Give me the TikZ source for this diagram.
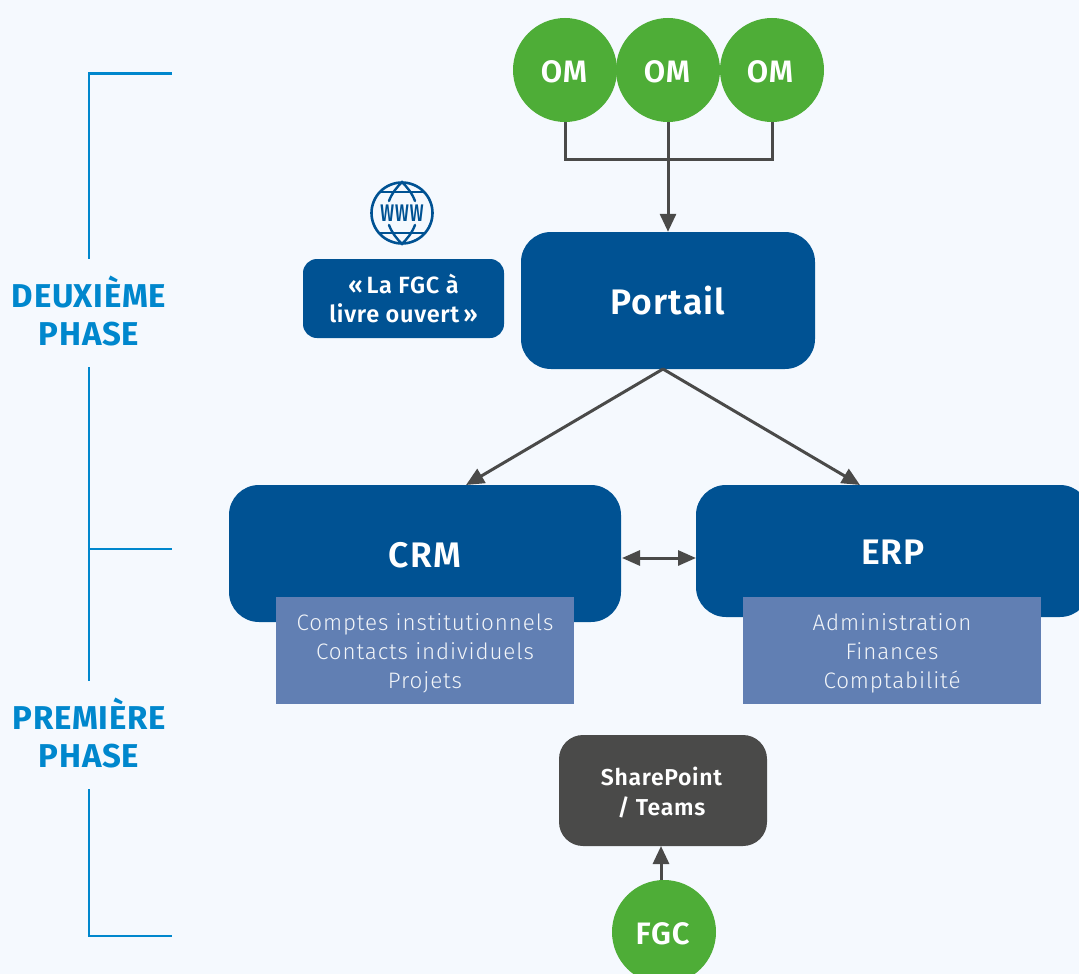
\documentclass[tikz,border=0pt]{standalone}
\usepackage{fontspec}
\setmainfont{Fira Sans}
\newfontfamily\dinb[LetterSpace=3]{Fira Sans SemiBold}
\newfontfamily\dinp[LetterSpace=2]{Fira Sans Bold}
\newfontfamily\dinr[LetterSpace=4]{Fira Sans Light}
\newfontfamily\dinw[LetterSpace=6]{Fira Sans SemiBold}
\usetikzlibrary{arrows.meta,calc}
\definecolor{bgc}{HTML}{F5F9FE}
\definecolor{navy}{HTML}{005293}
\definecolor{subb}{HTML}{617FB3}
\definecolor{grn}{HTML}{4EAD37}
\definecolor{dgray}{HTML}{4A4A49}
\definecolor{cyanb}{HTML}{0087CD}
\newcommand{\dn}[2]{\raisebox{-#1}[\dimexpr\height+#1\relax][0pt]{#2}}
\tikzset{
  x=1pt,y=-1pt,
  omc/.style={circle,fill=grn,draw=none,minimum size=104pt,inner sep=0pt,text=white,font=\dinb\fontsize{31}{31}\selectfont},
  bigbox/.style={rectangle,rounded corners=30pt,fill=navy,draw=none,inner sep=0pt,text=white,font=\dinb\fontsize{35.5}{35.5}\selectfont},
  subbox/.style={rectangle,fill=subb,draw=none,inner sep=0pt,minimum width=298pt,minimum height=107pt},
  subtext/.style={text=white!92!subb,align=center,inner sep=0pt,font=\dinr\fontsize{22.4}{29}\selectfont},
  conn/.style={draw=dgray,line width=3pt},
  arr/.style={conn,-{Triangle[length=18pt,width=16pt]}},
  darr/.style={conn,{Triangle[length=18pt,width=15pt]}-{Triangle[length=18pt,width=15pt]}},
  brk/.style={draw=cyanb,line width=2.8pt},
  phase/.style={text=cyanb,align=center,inner sep=0pt,font=\dinp\fontsize{33}{38}\selectfont},
}
\begin{document}
\begin{tikzpicture}
\useasboundingbox (0,0) rectangle (1079,974);
\clip (0,0) rectangle (1079,974);
\fill[bgc] (0,0) rectangle (1079,974);
% brackets
\coordinate (b1) at (172,73.5);\coordinate (b2) at (89,73.5);\coordinate (b3) at (89,259);
\coordinate (b4) at (89,367);\coordinate (b5) at (89,681);
\coordinate (b6) at (89,549);\coordinate (b7) at (172,549);
\coordinate (b8) at (89,789);\coordinate (b9) at (89,936);\coordinate (b10) at (172,936);
\draw[brk] (b1) -- (b2) -- (b3);
\draw[brk] (b4) -- (b5);
\draw[brk] (b6) -- (b7);
\draw[brk] (b8) -- (b9) -- (b10);
\node[phase] (p2) at (89,311) {DEUXIÈME\\PHASE};
\node[phase] (p1) at (89,733) {PREMIÈRE\\PHASE};
% nodes
\node[omc] (om1) at (565,70) {\dn{1.2pt}{OM\hspace{2pt}}};
\node[omc] (om2) at (668,70) {\dn{1.2pt}{OM\hspace{2pt}}};
\node[omc] (om3) at (772,70) {\dn{1.2pt}{OM\hspace{4pt}}};
\node[bigbox,minimum width=294pt,minimum height=137pt] (portail) at (668,300.5) {Portail};
\node[bigbox,minimum width=392pt,minimum height=137pt] (crm) at (425,553.5) {\dn{1pt}{CRM}};
\node[bigbox,minimum width=394pt,minimum height=132pt] (erp) at (893,551) {\dn{1pt}{ERP}};
\node[subbox] (crmsub) at (425,650.5) {};
\node[subbox] (erpsub) at (892,650.5) {};
\node[subtext] (crmt) at (425,653) {Comptes institutionnels\\Contacts individuels\\Projets};
\node[subtext] (erpt) at (892,653) {Administration\\Finances\\Comptabilité};
\node[rectangle,rounded corners=14pt,fill=navy,inner sep=0pt,minimum width=201pt,minimum height=79pt,text=white,align=center,font=\dinb\fontsize{23.5}{29}\selectfont] (livre) at (403.5,298.5) {«\,La FGC à\\livre ouvert\,»};
\node[rectangle,rounded corners=24pt,fill=dgray,inner sep=0pt,minimum width=208pt,minimum height=111pt] (sp) at (663,790.5) {};
\node[text=white,align=center,inner sep=0pt,font=\dinb\fontsize{23}{30}\selectfont] (spt) at (661.5,792.5) {SharePoint\\/ Teams};
\node[omc] (fgc) at (664,932) {\dn{1.2pt}{FGC\hspace{3pt}}};
% connectors
\coordinate (j) at (668,159);
\draw[conn,line join=miter] (om1.south) -- (om1.south |- j) -- (om3.south |- j) -- (om3.south);
\draw[arr] (om2.south) -- (portail.north);
\coordinate (pb) at (663,369);
\coordinate (ct) at (466,485);
\coordinate (et) at (860,485);
\draw[arr] (pb) -- (ct);
\draw[arr] (pb) -- (et);
\coordinate (dl) at (622,558);\coordinate (dr) at (696,558);
\draw[darr] (dl) -- (dr);
\coordinate (fa) at (661,880);\coordinate (fb) at (661,846);
\draw[arr] (fa) -- (fb);
% www icon
\node[circle,draw=navy,line width=2.6pt,minimum size=61pt,inner sep=0pt,text=navy,font=\dinw\fontsize{24}{24}\selectfont] (www) at (402,213) {\scalebox{.68}[1]{WWW}};
\draw[navy,line width=2.4pt] (380,192) -- (424,192) (380,233) -- (424,233);
\draw[navy,line width=2.4pt,line cap=round] (389,201) .. controls (392,193) and (397,187) .. (402,182) .. controls (407,187) and (412,193) .. (415,201);
\draw[navy,line width=2.4pt,line cap=round] (389,225) .. controls (392,233) and (397,239) .. (402,244) .. controls (407,239) and (412,233) .. (415,225);
\end{tikzpicture}
\end{document}
